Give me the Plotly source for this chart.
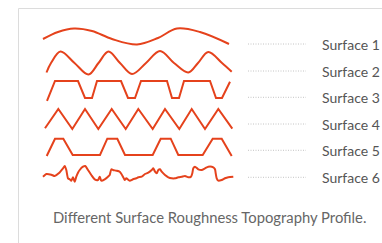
import plotly.graph_objects as go

# ---------------- data (profile distance, profile height) ----------------
labels = ["Surface 1", "Surface 2", "Surface 3", "Surface 4", "Surface 5", "Surface 6"]
caption = "Different Surface Roughness Topography Profile."

s1_x = [43, 58, 74, 92, 112, 137, 158, 177, 200, 229]
s1_h = [5, 12, 15.5, 13, 5, -0.5, 6, 15.5, 12, 0]

s2_x = [46.5, 51, 60.5, 74.5, 88.5, 98.5, 108.5, 120, 132, 146, 160, 174, 188.3, 198, 208.3, 222, 231.7]
s2_h = [-1.5, 8, 19.5, 8, -3.5, 8, 19.5, 8, -3, 8, 20, 8, -1.5, 8, 19, 8, -0.7]

s3_x = [47, 55, 78, 85, 92, 97, 121, 128, 135, 141, 167, 172, 179, 184, 210, 216, 222, 230]
s3_h = [-3.5, 16.3, 16.3, -0.7, -0.7, 16.3, 16.3, -0.7, -0.7, 16.3, 16.3, -0.7, -0.7, 16.3, 16.3, -0.7, -0.7, 15.5]

s4_x = [45, 58.3, 72.3, 85, 98.3, 111.7, 125.7, 138.3, 152.7, 165, 179.3, 191.7, 205, 218.3, 232.3]
s4_h = [-4.3, 15, -5, 15, -5, 15, -5, 15, -5, 15, -5, 15, -5, 15, -4.7]

s5_x = [46.7, 55, 63.3, 72.7, 100, 107.3, 117.3, 125, 152.7, 160.7, 170.7, 178.3, 202.7, 212.7, 221.7, 231.7]
s5_h = [-5.7, 11.6, 11.6, -4.7, -4.7, 11.6, 11.6, -4.7, -4.7, 11.6, 11.6, -4.7, -4.7, 11.6, 11.6, -5.7]

s6_x = [43, 46.3, 51.3, 54.7, 58.7, 63, 64.7, 66.3, 68, 69.7, 71.3, 73, 74.7, 76.3, 78, 79.7,
        83, 85.3, 88, 91.3, 94.7, 98, 99.7, 101.3, 104.7, 108, 109.7, 111.3, 113, 116.3, 119.7,
        123, 124.7, 126.3, 129.7, 133, 136.3, 138.3, 141.7, 145, 148.3, 151.7, 153.3, 155, 156.7,
        158.3, 160, 161.7, 165, 168.3, 171.7, 175, 178.3, 181.7, 185, 188.3, 191, 192.3, 193.3,
        195, 198.3, 201.7, 205, 208.3, 213.3, 215, 215.7, 216.7, 218.3, 221.7, 225, 228.3, 233.3]
s6_h = [0.6, 3.3, 2.6, 1.3, 4, 9, 11.3, 7.3, -1, -2, -3.4, 0, -4.4, 0.6, 4.6, 7.3,
        10.6, 11.3, 7.3, 2.3, -2, -2.7, 0.6, -3.4, -2, 0.6, 2.3, 8, 7.3, 6.6, 5.6,
        0.6, -2.7, -1, -3.4, -2, -1, 0, 0.6, 3.3, 4.6, 7.3, 9, 5.6, 4,
        7.3, 8, 5.6, 2.3, 0, -1, -1, 0, 0.6, 1.3, 0, 0.6, 4, 9,
        10.6, 8, 7.3, 9, 10.6, 10, 8, 4, -1, -3.4, -2.7, -1, 0, 0.6]

profiles = [(s1_x, s1_h, "spline"), (s2_x, s2_h, "spline"), (s3_x, s3_h, "linear"),
            (s4_x, s4_h, "linear"), (s5_x, s5_h, "linear"), (s6_x, s6_h, "spline")]

# ---------------- layout constants ----------------
W, H = 382, 243
ROW_Y = [44, 71, 97.3, 124, 150.3, 177.3]
RED = "#e5421c"

fig = go.Figure()
for (xs, hs, shape), base in zip(profiles, ROW_Y):
    line = dict(color=RED, width=2, shape=shape)
    if shape == "spline":
        line["smoothing"] = 0.6 if xs is s6_x else 1.0
    fig.add_trace(go.Scatter(x=xs, y=[base - h for h in hs], mode="lines",
                             line=line, hoverinfo="skip", showlegend=False))

for lab, base in zip(labels, ROW_Y):
    fig.add_trace(go.Scatter(x=[248, 306], y=[base, base], mode="lines",
                             line=dict(color="#c4c4c4", width=1, dash="1px,1.5px"),
                             hoverinfo="skip", showlegend=False))
    fig.add_annotation(x=320, y=base, text=lab, showarrow=False, xanchor="left",
                       yanchor="middle", font=dict(family="Lato", size=14, color="#555555"))

fig.add_annotation(x=209, y=216.5, text=caption, showarrow=False, xanchor="center",
                   yanchor="middle", font=dict(family="Lato", size=14.8, color="#666666"))

fig.add_shape(type="rect", x0=18.5, y0=8.5, x1=W + 20, y1=H + 20,
              line=dict(color="#dcdcdc", width=1), layer="below")

fig.update_layout(
    width=W, height=H, margin=dict(l=0, r=0, t=0, b=0),
    paper_bgcolor="white", plot_bgcolor="white",
    xaxis=dict(range=[0, W], visible=False, fixedrange=True),
    yaxis=dict(range=[H, 0], visible=False, fixedrange=True),
)
fig.write_html(
    "out.html",
    config={"displayModeBar": False},
    post_script=("document.body.style.margin='0';"
                 "document.body.style.overflow='hidden';"
                 "document.documentElement.style.overflow='hidden';"),
)
